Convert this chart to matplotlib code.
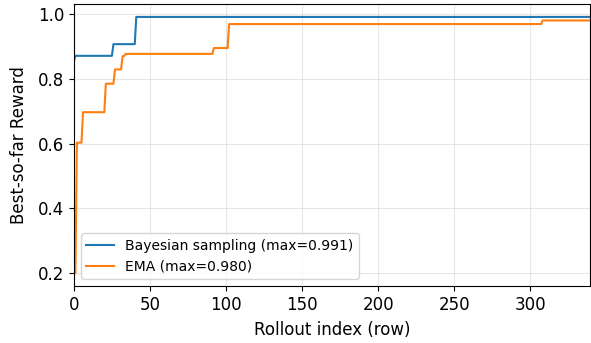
import matplotlib
matplotlib.use("Agg")
import matplotlib.pyplot as plt
import numpy as np
import pandas as pd

# rollout rows where the best-so-far reward improved, and the new best value
n_rows = 340
bayes_rows = [0, 1, 26, 41]
bayes_vals = [0.855, 0.871, 0.907, 0.991]
ema_rows = [0, 2, 6, 21, 27, 32, 34, 92, 102, 308]
ema_vals = [0.200, 0.603, 0.697, 0.785, 0.829, 0.870, 0.877, 0.895, 0.969, 0.980]


def best_so_far(rows, vals):
    s = pd.Series(np.nan, index=np.arange(n_rows))
    s.iloc[rows] = vals
    return s.ffill()


bayes = best_so_far(bayes_rows, bayes_vals)
ema = best_so_far(ema_rows, ema_vals)

plt.rcParams.update({"font.size": 12})

fig, ax = plt.subplots(figsize=(5.91, 3.43), dpi=100)
fig.subplots_adjust(left=0.125, right=0.998, top=0.988, bottom=0.166)

ax.plot(bayes.index, bayes.values, color="tab:blue", lw=1.5,
        label=f"Bayesian sampling (max={max(bayes_vals):.3f})")
ax.plot(ema.index, ema.values, color="tab:orange", lw=1.5,
        label=f"EMA (max={max(ema_vals):.3f})")

ax.set_xlim(0, n_rows - 1)
ax.set_xlabel("Rollout index (row)", labelpad=5.5)
ax.set_ylabel("Best-so-far Reward", labelpad=7)
ax.grid(True, alpha=0.3)
ax.legend(loc="lower left", fontsize=10)

fig.savefig("out.png", dpi=100)
